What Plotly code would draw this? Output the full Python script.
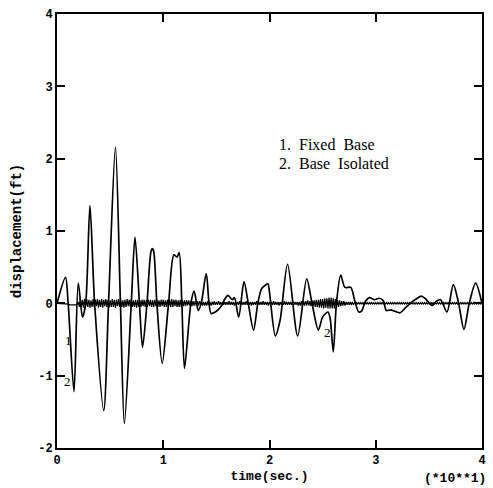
import plotly.graph_objects as go

# Base isolated (curve 2): time (x10 s) and displacement (ft)
iso_t = [0.0, 0.08, 0.105, 0.16, 0.20, 0.24, 0.27, 0.31, 0.354, 0.44, 0.485, 0.55, 0.597, 0.634, 0.699,
         0.734, 0.776, 0.805, 0.847, 0.885, 0.898, 0.91, 0.94, 0.99, 1.05, 1.10, 1.13, 1.15, 1.175, 1.20,
         1.26, 1.29, 1.33, 1.36, 1.405, 1.45, 1.49, 1.54, 1.58, 1.61, 1.65, 1.67, 1.71, 1.76, 1.80,
         1.85, 1.89, 1.925, 1.96, 1.985, 2.0, 2.055, 2.10, 2.17, 2.265, 2.35, 2.40, 2.46, 2.50, 2.55,
         2.57, 2.60, 2.63, 2.67, 2.71, 2.765, 2.80, 2.84, 2.87, 2.90, 2.94, 2.99, 3.03, 3.07, 3.10,
         3.14, 3.18, 3.23, 3.28, 3.34, 3.38, 3.43, 3.47, 3.53, 3.57, 3.61, 3.67, 3.73, 3.78, 3.83,
         3.88, 3.94, 4.0]
iso_d = [0.0, 0.36, 0.0, -1.22, 0.28, -0.19, 0.0, 1.35, 0.0, -1.48, 0.0, 2.16, 0.0, -1.66, 0.0,
         0.915, 0.0, -0.61, 0.0, 0.72, 0.755, 0.72, 0.0, -0.83, 0.0, 0.67, 0.64, 0.70, 0.0, -0.90,
         0.0, 0.17, -0.10, 0.02, 0.41, -0.14, -0.12, -0.05, 0.06, 0.11, 0.05, 0.08, -0.19, 0.30, 0.0,
         -0.37, 0.0, 0.20, 0.25, 0.27, 0.15, -0.45, -0.23, 0.54, -0.45, 0.34, 0.0, -0.37, -0.19, -0.12,
         -0.20, -0.67, 0.0, 0.39, 0.22, 0.22, 0.05, -0.12, -0.10, 0.02, 0.08, 0.05, 0.07, 0.04, -0.10,
         -0.09, -0.11, -0.13, -0.06, 0.02, 0.06, 0.10, 0.06, -0.03, 0.03, 0.05, -0.12, 0.26, 0.0, -0.36,
         0.0, 0.28, 0.0]

# Fixed base (curve 1): sampled every 0.01 (x10 s), 20 samples per row
fix_dt = 0.01
fix_d = [
    0, 0, 0, 0, 0, 0, 0, 0, 0, 0, -0.01, -0.01, -0.02, -0.02, -0.03, -0.03, -0.03, -0.02, -0.02, -0.01,
    0.02, -0.05, 0.06, -0.05, 0.05, -0.06, 0.06, -0.04, 0.06, -0.05, 0.05, -0.06, 0.04, -0.05, 0.06, -0.05, 0.05, -0.04, 0.06, -0.06,
    0.05, -0.05, 0.06, -0.06, 0.05, -0.04, 0.06, -0.05, 0.05, -0.06, 0.04, -0.05, 0.06, -0.05, 0.05, -0.06, 0.05, -0.04, 0.06, -0.05,
    0.05, -0.05, 0.04, -0.06, 0.05, -0.05, 0.06, -0.04, 0.05, -0.05, 0.06, -0.05, 0.04, -0.05, 0.05, -0.06, 0.05, -0.05, 0.04, -0.05,
    0.05, -0.04, 0.05, -0.05, 0.04, -0.05, 0.05, -0.04, 0.05, -0.05, 0.04, -0.05, 0.05, -0.04, 0.05, -0.05, 0.04, -0.05, 0.05, -0.04,
    0.05, -0.05, 0.04, -0.05, 0.05, -0.04, 0.05, -0.05, 0.06, -0.05, 0.05, -0.04, 0.05, -0.05, 0.04, -0.05, 0.05, -0.05, 0.04, -0.04,
    0.04, -0.04, 0.04, -0.03, 0.04, -0.03, 0.03, -0.04, 0.03, -0.03, 0.03, -0.03, 0.03, -0.03, 0.03, -0.02, 0.03, -0.03, 0.02, -0.03,
    0.02, -0.03, 0.03, -0.02, 0.02, -0.03, 0.02, -0.02, 0.03, -0.02, 0.02, -0.02, 0.03, -0.02, 0.02, -0.03, 0.02, -0.02, 0.02, -0.02,
    0.02, -0.02, 0.03, -0.02, 0.02, -0.02, 0.02, -0.03, 0.02, -0.02, 0.02, -0.02, 0.03, -0.02, 0.02, -0.02, 0.02, -0.02, 0.03, -0.02,
    0.02, -0.02, 0.02, -0.03, 0.02, -0.02, 0.02, -0.02, 0.03, -0.02, 0.02, -0.02, 0.02, -0.02, 0.03, -0.02, 0.02, -0.02, 0.02, -0.03,
    0.02, -0.02, 0.02, -0.02, 0.03, -0.02, 0.02, -0.02, 0.02, -0.03, 0.02, -0.02, 0.02, -0.02, 0.03, -0.02, 0.02, -0.02, 0.02, -0.02,
    0.02, -0.02, 0.03, -0.02, 0.02, -0.02, 0.02, -0.03, 0.02, -0.03, 0.03, -0.03, 0.03, -0.03, 0.03, -0.03, 0.04, -0.03, 0.03, -0.04,
    0.04, -0.04, 0.04, -0.05, 0.05, -0.05, 0.05, -0.06, 0.06, -0.06, 0.06, -0.07, 0.07, -0.06, 0.07, -0.07, 0.08, -0.07, 0.08, -0.07,
    0.07, -0.07, 0.06, -0.06, 0.05, -0.05, 0.04, -0.04, 0.03, -0.03, 0.03, -0.03, 0.02, -0.02, 0.02, -0.02, 0.02, -0.02, 0.02, -0.02,
    0.01, -0.01, 0.01, -0.01, 0.01, -0.01, 0.01, -0.01, 0.01, -0.01, 0.01, -0.01, 0.01, -0.01, 0.01, -0.01, 0.01, -0.01, 0.01, -0.01,
    0.01, -0.01, 0.01, -0.01, 0.01, -0.01, 0.01, -0.01, 0.01, -0.01, 0.01, -0.01, 0.01, -0.01, 0.01, -0.01, 0.01, -0.01, 0.01, -0.01,
    0.01, -0.01, 0.01, -0.01, 0.01, -0.01, 0.01, -0.01, 0.01, -0.01, 0.01, -0.01, 0.01, -0.01, 0.01, -0.01, 0.01, -0.01, 0.01, -0.01,
    0.01, -0.01, 0.01, -0.01, 0.01, -0.01, 0.01, -0.01, 0.01, -0.01, 0.01, -0.01, 0.01, -0.01, 0.01, -0.01, 0.01, -0.01, 0.01, -0.01,
    0.01, -0.01, 0.01, -0.01, 0.01, -0.01, 0.01, -0.01, 0.01, -0.01, 0.01, -0.01, 0.01, -0.01, 0.01, -0.01, 0.01, -0.01, 0.01, -0.01,
    0.01, -0.01, 0.01, -0.01, 0.01, -0.01, 0.01, -0.01, 0.01, -0.01, 0.01, -0.01, 0.01, -0.01, 0.01, -0.01, 0.01, -0.01, 0.01, -0.01,
    0.0,
]
fix_t = [i * fix_dt for i in range(len(fix_d))]

x_ticks = [0, 1, 2, 3, 4]
y_ticks = [-2, -1, 0, 1, 2, 3, 4]
legend_lines = ["1.  Fixed  Base", "2.  Base  Isolated"]

mono = "Liberation Mono"
serif = "Liberation Serif"

fig = go.Figure()
fig.add_trace(go.Scatter(x=fix_t, y=fix_d, mode="lines",
                         line=dict(color="black", width=1.2), showlegend=False))
fig.add_trace(go.Scatter(x=iso_t, y=iso_d, mode="lines",
                         line=dict(color="black", width=1.7, shape="spline", smoothing=0.8),
                         showlegend=False))

axis_common = dict(showgrid=False, zeroline=False, showline=True, linecolor="black", linewidth=2,
                   mirror="ticks", ticks="inside", ticklen=8, tickwidth=1.5, tickcolor="black",
                   tickfont=dict(family=mono, size=12, color="black"))

fig.update_layout(
    width=493, height=488,
    margin=dict(l=57, r=7, t=14, b=39),
    paper_bgcolor="white", plot_bgcolor="white",
    xaxis=dict(range=[0, 4], tickvals=x_ticks, ticktext=["<b>%d</b>" % v for v in x_ticks],
               title=dict(text="<b>time(sec.)</b>", font=dict(family=mono, size=13, color="black"),
                          standoff=3),
               **axis_common),
    yaxis=dict(range=[-2, 4], tickvals=y_ticks, ticktext=["<b>%d</b>" % v for v in y_ticks],
               title=dict(text="<b>displacement(ft)</b>", font=dict(family=mono, size=14, color="black"),
                          standoff=13),
               **axis_common),
)

fig.add_annotation(x=2.07, y=2.2, xref="x", yref="y", text=legend_lines[0], showarrow=False,
                   xanchor="left", font=dict(family=serif, size=16, color="black"))
fig.add_annotation(x=2.07, y=1.93, xref="x", yref="y", text=legend_lines[1], showarrow=False,
                   xanchor="left", font=dict(family=serif, size=16, color="black"))

fig.add_annotation(x=0.107, y=-0.52, xref="x", yref="y", text="1", showarrow=False,
                   font=dict(family=serif, size=13, color="black"))
fig.add_annotation(x=0.10, y=-1.08, xref="x", yref="y", text="2", showarrow=False,
                   font=dict(family=serif, size=13, color="black"))
fig.add_annotation(x=2.55, y=-0.41, xref="x", yref="y", text="2", showarrow=False,
                   font=dict(family=serif, size=13, color="black"))

fig.add_annotation(x=1.0, y=0, xref="paper", yref="paper", yshift=-21, xshift=6,
                   text="<b>(*10**1)</b>", showarrow=False, xanchor="right", yanchor="top",
                   font=dict(family=mono, size=13, color="black"))

fig.write_html("out.html")
